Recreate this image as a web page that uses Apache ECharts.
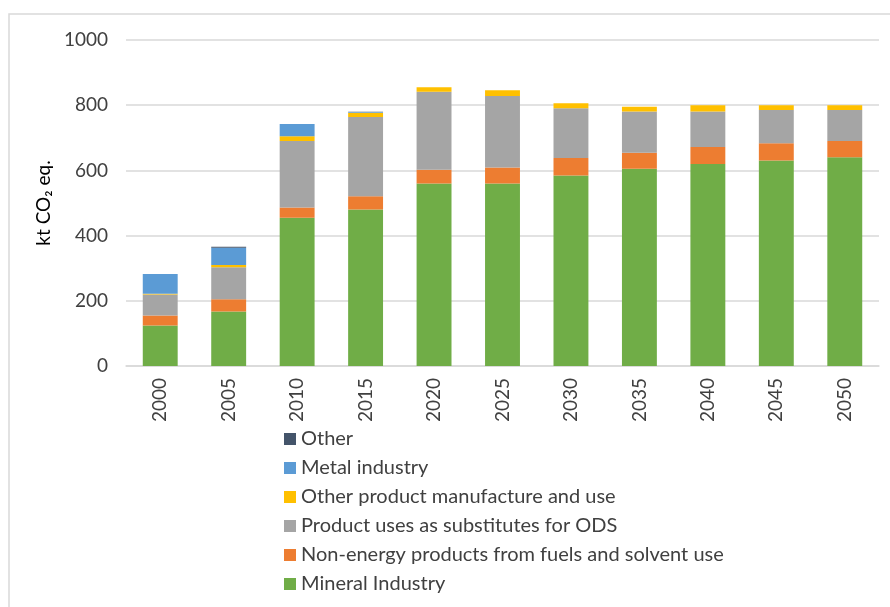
<!DOCTYPE html>
<html>
<head>
<meta charset="utf-8">
<script src="https://cdn.jsdelivr.net/npm/echarts@6/dist/echarts.min.js"></script>
<style>
  html, body { margin: 0; padding: 0; background: #fff; }
  #chart { width: 890px; height: 607px; }
</style>
</head>
<body>
<div id="chart"></div>
<script>
// Years on the category axis
const years = ['2000', '2005', '2010', '2015', '2020', '2025', '2030', '2035', '2040', '2045', '2050'];

// Emissions by sub-sector, kt CO2 eq.
const mineralIndustry = [124, 167, 455, 480, 560, 560, 584, 605, 620, 630, 640];
const nonEnergyProducts = [31, 38, 31, 41, 42, 49, 54, 49, 52, 53, 50];
const odsSubstitutes = [64, 98, 204, 243, 239, 219, 153, 127, 109, 102, 95];
const otherProductUse = [3, 7, 15, 13, 14, 18, 15, 14, 19, 15, 15];
const metalIndustry = [60, 53, 37, 2, 0, 0, 0, 0, 0, 0, 0];
const otherSector = [0, 3, 0, 1, 0, 0, 0, 0, 0, 0, 0];

const yTicks = { min: 0, max: 1000, interval: 200 };

const FONT = 'Lato';
const FONT_SIZE = 19;

const seriesDefs = [
  { name: 'Mineral Industry', data: mineralIndustry, color: '#70ad47' },
  { name: 'Non-energy products from fuels and solvent use', data: nonEnergyProducts, color: '#ed7d31' },
  { name: 'Product uses as substitutes for ODS', data: odsSubstitutes, color: '#a5a5a5' },
  { name: 'Other product manufacture and use', data: otherProductUse, color: '#ffc000' },
  { name: 'Metal industry', data: metalIndustry, color: '#5b9bd5' },
  { name: 'Other', data: otherSector, color: '#44546a' }
];

const chart = echarts.init(document.getElementById('chart'), null, { renderer: 'canvas' });

chart.setOption({
  backgroundColor: '#ffffff',
  animation: false,
  graphic: [{
    type: 'rect',
    shape: { x: 9, y: 14, width: 900, height: 620 },
    style: { fill: 'none', stroke: '#d9d9d9', lineWidth: 1.5 },
    silent: true,
    z: -10
  }],
  grid: { left: 126, right: 11, top: 40, bottom: 241 },
  legend: {
    orient: 'vertical',
    left: 279,
    top: 424,
    itemWidth: 12,
    itemHeight: 12,
    itemGap: 9,
    icon: 'rect',
    data: seriesDefs.map(s => s.name).reverse(),
    textStyle: { fontFamily: FONT, fontSize: 20, color: '#404040' }
  },
  xAxis: {
    type: 'category',
    data: years,
    axisLine: { lineStyle: { color: '#d9d9d9', width: 1.5 } },
    axisTick: { show: false },
    axisLabel: {
      rotate: 90,
      margin: 12,
      fontFamily: FONT,
      fontSize: FONT_SIZE,
      color: '#404040'
    }
  },
  yAxis: {
    type: 'value',
    min: yTicks.min,
    max: yTicks.max,
    interval: yTicks.interval,
    name: 'kt CO₂ eq.',
    nameLocation: 'middle',
    nameRotate: 90,
    nameGap: 72,
    nameTextStyle: { fontFamily: FONT, fontSize: FONT_SIZE, color: '#000' },
    axisLine: { show: false },
    axisTick: { show: false },
    splitLine: { lineStyle: { color: '#d9d9d9', width: 1.5 } },
    axisLabel: {
      margin: 18,
      fontFamily: FONT,
      fontSize: FONT_SIZE,
      color: '#404040',
      formatter: v => String(v)
    }
  },
  series: seriesDefs.map(s => ({
    name: s.name,
    type: 'bar',
    stack: 'total',
    barCategoryGap: '49%',
    data: s.data,
    itemStyle: { color: s.color },
    emphasis: { disabled: true }
  }))
});
</script>
</body>
</html>
